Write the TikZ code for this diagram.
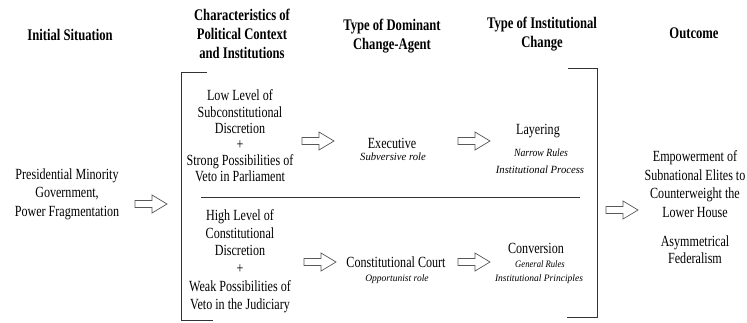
\documentclass[tikz,border=0pt]{standalone}
\usepackage{fontspec}
\setmainfont{Liberation Serif}[FakeStretch=0.78]
\newfontfamily\itfam{Liberation Serif}[FakeStretch=0.97]
\newfontfamily\itnarrow{Liberation Serif}[FakeStretch=0.88]
\begin{document}
\begin{tikzpicture}[x=1pt,y=-1pt,
  hdr/.style={font=\fontsize{16.2}{18.7}\selectfont\bfseries, align=center, inner sep=0pt},
  body/.style={font=\fontsize{15.5}{16.2}\selectfont, align=center, inner sep=0pt},
  ital/.style={font=\itfam\fontsize{11}{14}\selectfont\itshape, inner sep=0pt},
  itals/.style={font=\itfam\fontsize{9.8}{14}\selectfont\itshape, inner sep=0pt},
  bracket/.style={draw=black!80, line width=0.8pt},
  barrow/.pic={\draw[draw=black!65, line width=0.7pt, fill=white]
     (0,-3.5) -- (17,-3.5) -- (17,-9) -- (32,0) -- (17,9) -- (17,3.5) -- (0,3.5) -- cycle;}
]
\useasboundingbox (0,0) rectangle (747,322);

% headers
\node[hdr] (h1) at (70,35) {Initial Situation};
\node[hdr] (h2) at (242,34) {Characteristics of\\Political Context\\and Institutions};
\node[hdr] (h3) at (392,36) {Type of Dominant\\Change-Agent};
\node[hdr] (h4) at (542,34) {Type of Institutional\\Change};
\node[hdr] (h5) at (694,33) {Outcome};

% initial situation
\node[body, font=\fontsize{15.5}{18.5}\selectfont] (init) at (67,194) {Presidential Minority\\Government,\\Power Fragmentation};

% characteristics
\node[body] (up) at (240,136) {Low Level of\\Subconstitutional\\Discretion\\+\\Strong Possibilities of\\Veto in Parliament};
\node[body, font=\fontsize{15.5}{17.8}\selectfont] (low) at (240,261) {High Level of\\Constitutional\\Discretion\\+\\Weak Possibilities of\\Veto in the Judiciary};

% change agents
\node[body] (exe) at (392,143) {Executive};
\node[ital] (exer) at (393,157) {Subversive role};
\node[body] (cc) at (396,262) {Constitutional Court};
\node[itals] (ccr) at (397,279) {Opportunist role};

% institutional change
\node[body] (lay) at (538,131) {Layering};
\node[ital, font=\itnarrow\fontsize{11}{14}\selectfont\itshape] (lay1) at (541,153) {Narrow Rules};
\node[ital] (lay2) at (540,170) {Institutional Process};
\node[body] (conv) at (536,248) {Conversion};
\node[itals, font=\itnarrow\fontsize{9.8}{14}\selectfont\itshape] (conv1) at (540,264) {General Rules};
\node[itals] (conv2) at (539,279) {Institutional Principles};

% outcome
\node[body, font=\fontsize{15.5}{18.5}\selectfont] (emp) at (695,184) {Empowerment of\\Subnational Elites to\\Counterweight the\\Lower House};
\node[body, font=\fontsize{15.5}{17}\selectfont] (asym) at (695,250) {Asymmetrical\\Federalism};

% brackets and divider
\draw[bracket] (207,72) -- (181,72) -- (181,320) -- (213,320);
\draw[bracket] (568,68) -- (597,68) -- (597,317) -- (567,317);
\draw[bracket] (201,197) -- (580,197);

% block arrows
\pic at (135,204) {barrow};
\pic at (302,141) {barrow};
\pic at (458,141) {barrow};
\pic at (304,262) {barrow};
\pic at (458,262) {barrow};
\pic at (606,210) {barrow};
\end{tikzpicture}
\end{document}
